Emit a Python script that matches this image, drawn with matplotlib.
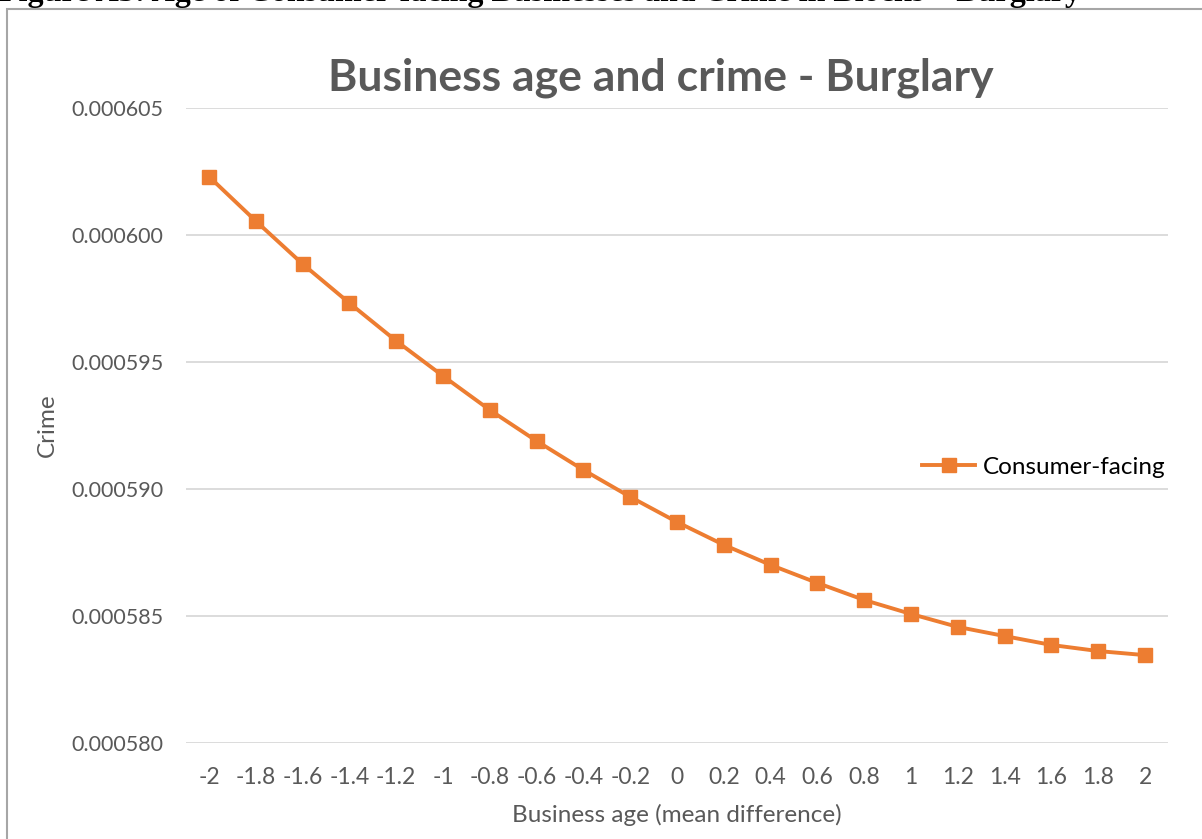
import matplotlib
matplotlib.use("Agg")
import matplotlib.pyplot as plt
from matplotlib.patches import Rectangle

# business age (mean difference) and predicted burglary rate
age = ["-2", "-1.8", "-1.6", "-1.4", "-1.2", "-1", "-0.8", "-0.6", "-0.4", "-0.2", "0",
       "0.2", "0.4", "0.6", "0.8", "1", "1.2", "1.4", "1.6", "1.8", "2"]
consumer_facing = [0.0006023, 0.00060055, 0.00059886, 0.00059732, 0.00059583, 0.00059445,
                   0.00059311, 0.00059189, 0.00059075, 0.00058969, 0.00058870, 0.00058780,
                   0.00058701, 0.00058630, 0.00058563, 0.00058508, 0.00058457, 0.00058421,
                   0.00058386, 0.00058362, 0.00058346]
yticks = [0.000580, 0.000585, 0.000590, 0.000595, 0.000600, 0.000605]

W, H = 1202, 839
plt.rcParams["font.family"] = ["Lato", "DejaVu Sans"]
fig = plt.figure(figsize=(W / 100, H / 100), dpi=100)

# chart frame, running off the right and bottom edges
fig.patches.append(Rectangle((7 / W, -0.1), 1.2, 1 - 9 / H + 0.1, transform=fig.transFigure,
                             fill=False, edgecolor="#a6a6a6", linewidth=1.5))

# caption of the figure above the frame (mostly cropped)
fig.text(-1 / W, 1 - 1 / H, "Figure A3: Age of Consumer-facing Businesses and Crime in Blocks \u2013 Burglary",
         family="Liberation Serif", weight="bold", fontsize=23, color="black", va="baseline", ha="left")

ax = fig.add_axes([185.6 / W, 1 - 743 / H, (1168.4 - 185.6) / W, (743 - 108) / H])
x = list(range(len(age)))
ax.plot(x, consumer_facing, color="#ed7d31", linewidth=2.8, marker="s", markersize=10.5,
        label="Consumer-facing")
ax.set_xlim(-0.5, len(age) - 0.5)
ax.set_ylim(yticks[0], yticks[-1])
ax.set_xticks(x)
ax.set_xticklabels(age)
ax.set_yticks(yticks)
ax.set_yticklabels(["%.6f" % v for v in yticks])
ax.tick_params(length=0, labelcolor="#595959")
ax.tick_params(axis="x", pad=17, labelsize=16.5)
ax.tick_params(axis="y", pad=16, labelsize=15.5)
ax.grid(axis="y", color="#d9d9d9", linewidth=1.3)
ax.set_axisbelow(True)
for s in ax.spines.values():
    s.set_visible(False)

# title centred on the chart frame rather than the plot area
fig.text(661 / W, 1 - 90 / H, "Business age and crime - Burglary", fontsize=32, weight="bold",
         color="#595959", ha="center", va="baseline")
ax.set_xlabel("Business age (mean difference)", fontsize=17.5, color="#595959", labelpad=12)
ax.set_ylabel("Crime", fontsize=17.5, color="#595959")
ax.yaxis.set_label_coords((58 - 185.6) / 982.8, 0.5)

ax.legend(loc="center left", bbox_to_anchor=(922 / W, 1 - 467 / H), bbox_transform=fig.transFigure,
          frameon=False, fontsize=17.5, handlelength=2.2, handletextpad=0.3, borderpad=0, borderaxespad=0)

fig.savefig("out.png", dpi=100)
